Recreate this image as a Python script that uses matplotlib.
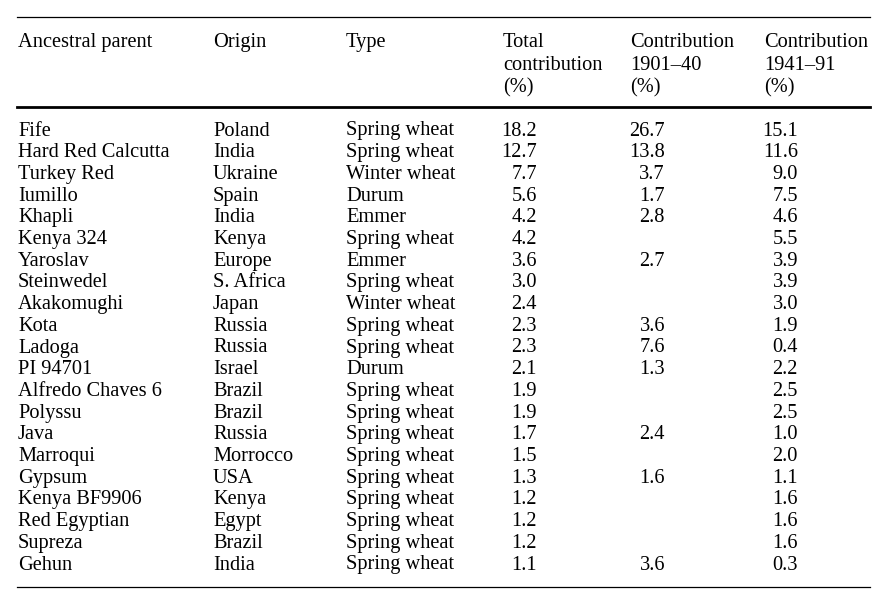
import matplotlib.pyplot as plt

plt.rcParams['font.family'] = ['Liberation Serif', 'DejaVu Serif']

# table contents
parents = ['Fife', 'Hard Red Calcutta', 'Turkey Red', 'Iumillo', 'Khapli', 'Kenya 324',
           'Yaroslav', 'Steinwedel', 'Akakomughi', 'Kota', 'Ladoga', 'PI 94701',
           'Alfredo Chaves 6', 'Polyssu', 'Java', 'Marroqui', 'Gypsum', 'Kenya BF9906',
           'Red Egyptian', 'Supreza', 'Gehun']
origins = ['Poland', 'India', 'Ukraine', 'Spain', 'India', 'Kenya', 'Europe', 'S. Africa',
           'Japan', 'Russia', 'Russia', 'Israel', 'Brazil', 'Brazil', 'Russia', 'Morrocco',
           'USA', 'Kenya', 'Egypt', 'Brazil', 'India']
types = ['Spring wheat', 'Spring wheat', 'Winter wheat', 'Durum', 'Emmer', 'Spring wheat',
         'Emmer', 'Spring wheat', 'Winter wheat', 'Spring wheat', 'Spring wheat', 'Durum',
         'Spring wheat', 'Spring wheat', 'Spring wheat', 'Spring wheat', 'Spring wheat',
         'Spring wheat', 'Spring wheat', 'Spring wheat', 'Spring wheat']
total = [18.2, 12.7, 7.7, 5.6, 4.2, 4.2, 3.6, 3.0, 2.4, 2.3, 2.3, 2.1, 1.9, 1.9, 1.7,
         1.5, 1.3, 1.2, 1.2, 1.2, 1.1]
contrib_1901_40 = [26.7, 13.8, 3.7, 1.7, 2.8, None, 2.7, None, None, 3.6, 7.6, 1.3,
                   None, None, 2.4, None, 1.6, None, None, None, 3.6]
contrib_1941_91 = [15.1, 11.6, 9.0, 7.5, 4.6, 5.5, 3.9, 3.9, 3.0, 1.9, 0.4, 2.2, 2.5,
                   2.5, 1.0, 2.0, 1.1, 1.6, 1.6, 1.6, 0.3]
headers = ['Ancestral parent', 'Origin', 'Type', 'Total\ncontribution\n(%)',
           'Contribution\n1901\u201340\n(%)', 'Contribution\n1941\u201391\n(%)']

W, H = 886, 597
fig = plt.figure(figsize=(W / 100, H / 100), dpi=100)
ax = fig.add_axes([0, 0, 1, 1])
ax.set_xlim(0, W)
ax.set_ylim(H, 0)
ax.axis('off')

fs = 14.7
col_left = [18, 213, 346, 503, 630, 764]
num_right = [537, 665, 798]
row0, dy = 128.5, 21.7
head_y = [40, 62.5, 85]

# rules
ax.plot([17, 870], [17, 17], color='black', lw=0.9)
ax.plot([17, 870], [107, 107], color='black', lw=2.0)
ax.plot([17, 870], [587, 587], color='black', lw=0.9)

for x, h in zip(col_left, headers):
    for k, line in enumerate(h.split('\n')):
        ax.text(x, head_y[k], line, fontsize=fs, ha='left', va='center_baseline')

for i in range(len(parents)):
    y = row0 + i * dy
    for x, s in zip(col_left[:3], [parents[i], origins[i], types[i]]):
        ax.text(x, y, s, fontsize=fs, ha='left', va='center_baseline')
    for x, v in zip(num_right, [total[i], contrib_1901_40[i], contrib_1941_91[i]]):
        if v is not None:
            ax.text(x, y, f'{v:.1f}', fontsize=fs, ha='right', va='center_baseline')

fig.savefig('out.png', dpi=100)
